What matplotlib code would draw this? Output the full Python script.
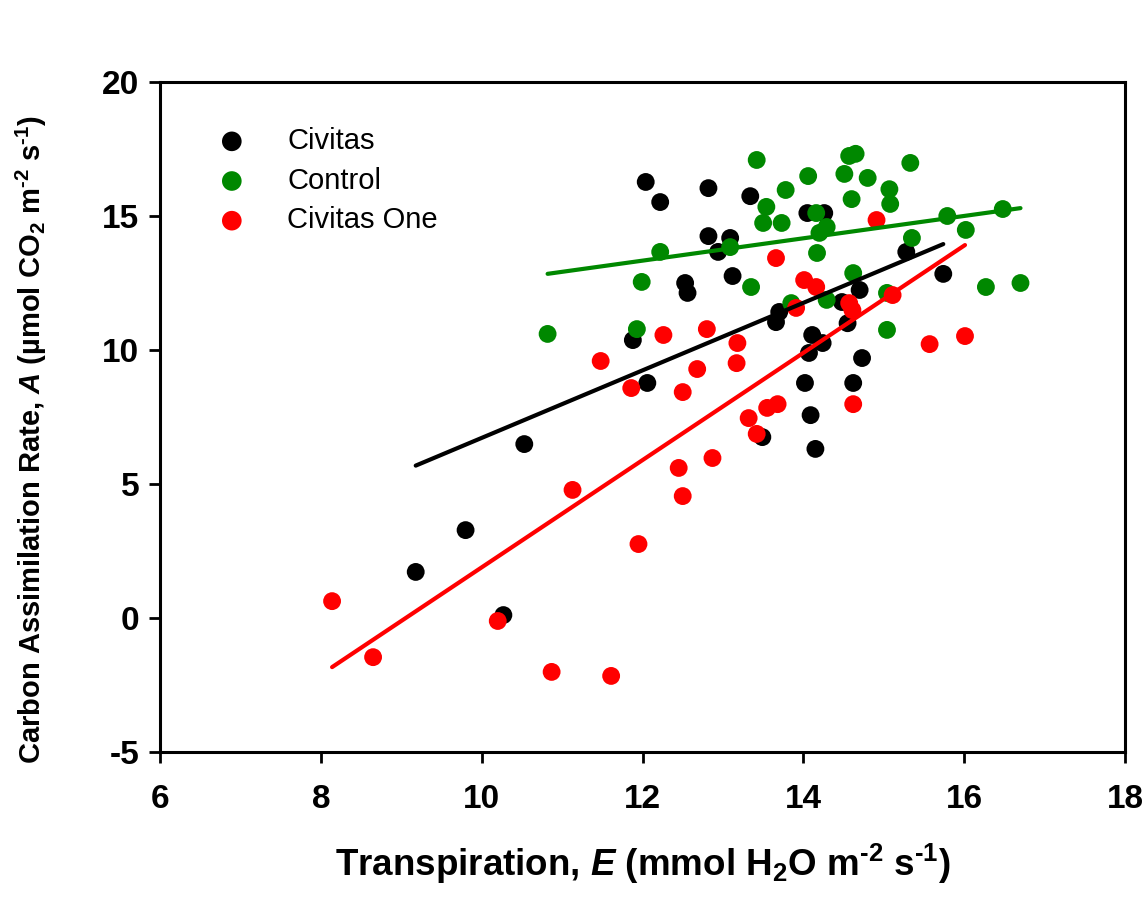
import numpy as np
import matplotlib
matplotlib.use("Agg")
import matplotlib.pyplot as plt

plt.rcParams['font.family'] = ['Liberation Sans', 'DejaVu Sans']
plt.rcParams['mathtext.fontset'] = 'custom'
plt.rcParams['mathtext.rm'] = 'Liberation Sans:bold'
plt.rcParams['mathtext.it'] = 'Liberation Sans:bold:italic'
plt.rcParams['mathtext.bf'] = 'Liberation Sans:bold'
plt.rcParams['mathtext.default'] = 'rm'

# ---- data ----
civitas_x = [9.18, 9.80, 10.27, 10.53, 11.88, 12.06, 12.04, 12.22, 12.82, 13.34,
             12.82, 13.09, 12.94, 13.12, 12.53, 12.56, 14.05, 14.26, 14.70, 13.70,
             13.66, 14.48, 14.55, 14.11, 14.24, 14.07, 14.73, 14.02, 14.62, 14.09,
             14.15, 13.49, 15.28, 15.74]
civitas_y = [1.72, 3.28, 0.11, 6.49, 10.37, 8.77, 16.27, 15.52, 16.04, 15.74,
             14.25, 14.18, 13.66, 12.76, 12.50, 12.13, 15.11, 15.11, 12.24, 11.42,
             11.04, 11.79, 11.00, 10.56, 10.26, 9.89, 9.70, 8.77, 8.77, 7.57,
             6.31, 6.75, 13.66, 12.84]

control_x = [10.82, 11.93, 11.99, 12.22, 13.42, 13.78, 14.06, 14.51, 14.57, 14.65,
             14.80, 15.07, 15.08, 14.60, 13.54, 13.50, 13.73, 14.16, 14.29, 14.20,
             13.09, 14.17, 13.35, 14.62, 14.29, 13.85, 15.04, 15.04, 15.33, 15.79,
             16.48, 16.02, 15.35, 16.27, 16.70]
control_y = [10.60, 10.78, 12.54, 13.66, 17.09, 15.97, 16.49, 16.57, 17.24, 17.32,
             16.42, 16.00, 15.45, 15.63, 15.34, 14.74, 14.74, 15.11, 14.59, 14.37,
             13.84, 13.62, 12.35, 12.87, 11.87, 11.75, 10.75, 12.13, 16.98, 15.00,
             15.26, 14.48, 14.18, 12.35, 12.50]

one_x = [8.14, 8.65, 10.20, 10.87, 11.61, 11.95, 11.13, 11.48, 11.86, 12.26,
         12.80, 13.18, 13.17, 12.68, 12.50, 13.66, 14.91, 14.01, 14.16, 13.91,
         14.57, 14.61, 15.11, 15.57, 16.01, 14.62, 13.55, 13.68, 13.32, 13.42,
         12.87, 12.45, 12.50]
one_y = [0.63, -1.46, -0.11, -2.01, -2.16, 2.76, 4.78, 9.59, 8.58, 10.56,
         10.78, 10.26, 9.51, 9.29, 8.43, 13.43, 14.85, 12.61, 12.35, 11.57,
         11.75, 11.49, 12.05, 10.22, 10.52, 7.98, 7.84, 7.98, 7.46, 6.87,
         5.97, 5.60, 4.55]

# regression lines (slope, intercept) as drawn in the reference
civitas_fit = [1.26, -5.88]
control_fit = [0.417, 8.33]
one_fit = [2.001, -18.12]

series_names = ["Civitas", "Control", "Civitas One"]
series_colors = ["#000000", "#008800", "#ff0000"]

x_ticks = [6, 8, 10, 12, 14, 16, 18]
y_ticks = [-5, 0, 5, 10, 15, 20]

# ---- plot ----
fig = plt.figure(figsize=(11.46, 9.0), dpi=100)
ax = fig.add_axes([0.1396, 0.1644, 0.8421, 0.7445])

data = [(civitas_x, civitas_y, civitas_fit),
        (control_x, control_y, control_fit),
        (one_x, one_y, one_fit)]

for (xs, ys, fit), name, col in zip(data, series_names, series_colors):
    ax.scatter(xs, ys, s=165, color=col, edgecolors='none', label=name, zorder=3)

for (xs, ys, fit), col in zip(data, series_colors):
    xl = np.array([min(xs), max(xs)])
    ax.plot(xl, fit[0] * xl + fit[1], color=col, lw=3, solid_capstyle='round', zorder=4)

ax.set_xlim(6, 18)
ax.set_ylim(-5, 20)
ax.set_xticks(x_ticks)
ax.set_yticks(y_ticks)
ax.set_xticklabels([str(t) for t in x_ticks], fontsize=24, fontweight='bold')
ax.set_yticklabels([str(t) for t in y_ticks], fontsize=24, fontweight='bold')
ax.tick_params(direction='out', length=8, width=2)
ax.tick_params(axis='x', pad=15)
ax.tick_params(axis='y', pad=7)
for sp in ax.spines.values():
    sp.set_linewidth(2.2)

ax.set_xlabel('Transpiration, $\\mathit{E}$ (mmol H$_2$O m$^{\u2010 2}$ s$^{\u2010 1}$)',
              fontsize=26.5, fontweight='bold', labelpad=19)
ax.set_ylabel('Carbon Assimilation Rate, $\\mathit{A}$ (µmol CO$_2$ m$^{\u2010 2}$ s$^{\u2010 1}$)',
              fontsize=21, fontweight='bold')
ax.yaxis.set_label_coords(-0.115, 0.466)

leg = ax.legend(loc='upper left', bbox_to_anchor=(0.017, 0.972), frameon=False,
                fontsize=21, handletextpad=0.9, labelspacing=0.4,
                scatterpoints=1, markerscale=1.1)

fig.savefig("out.png", dpi=100)
